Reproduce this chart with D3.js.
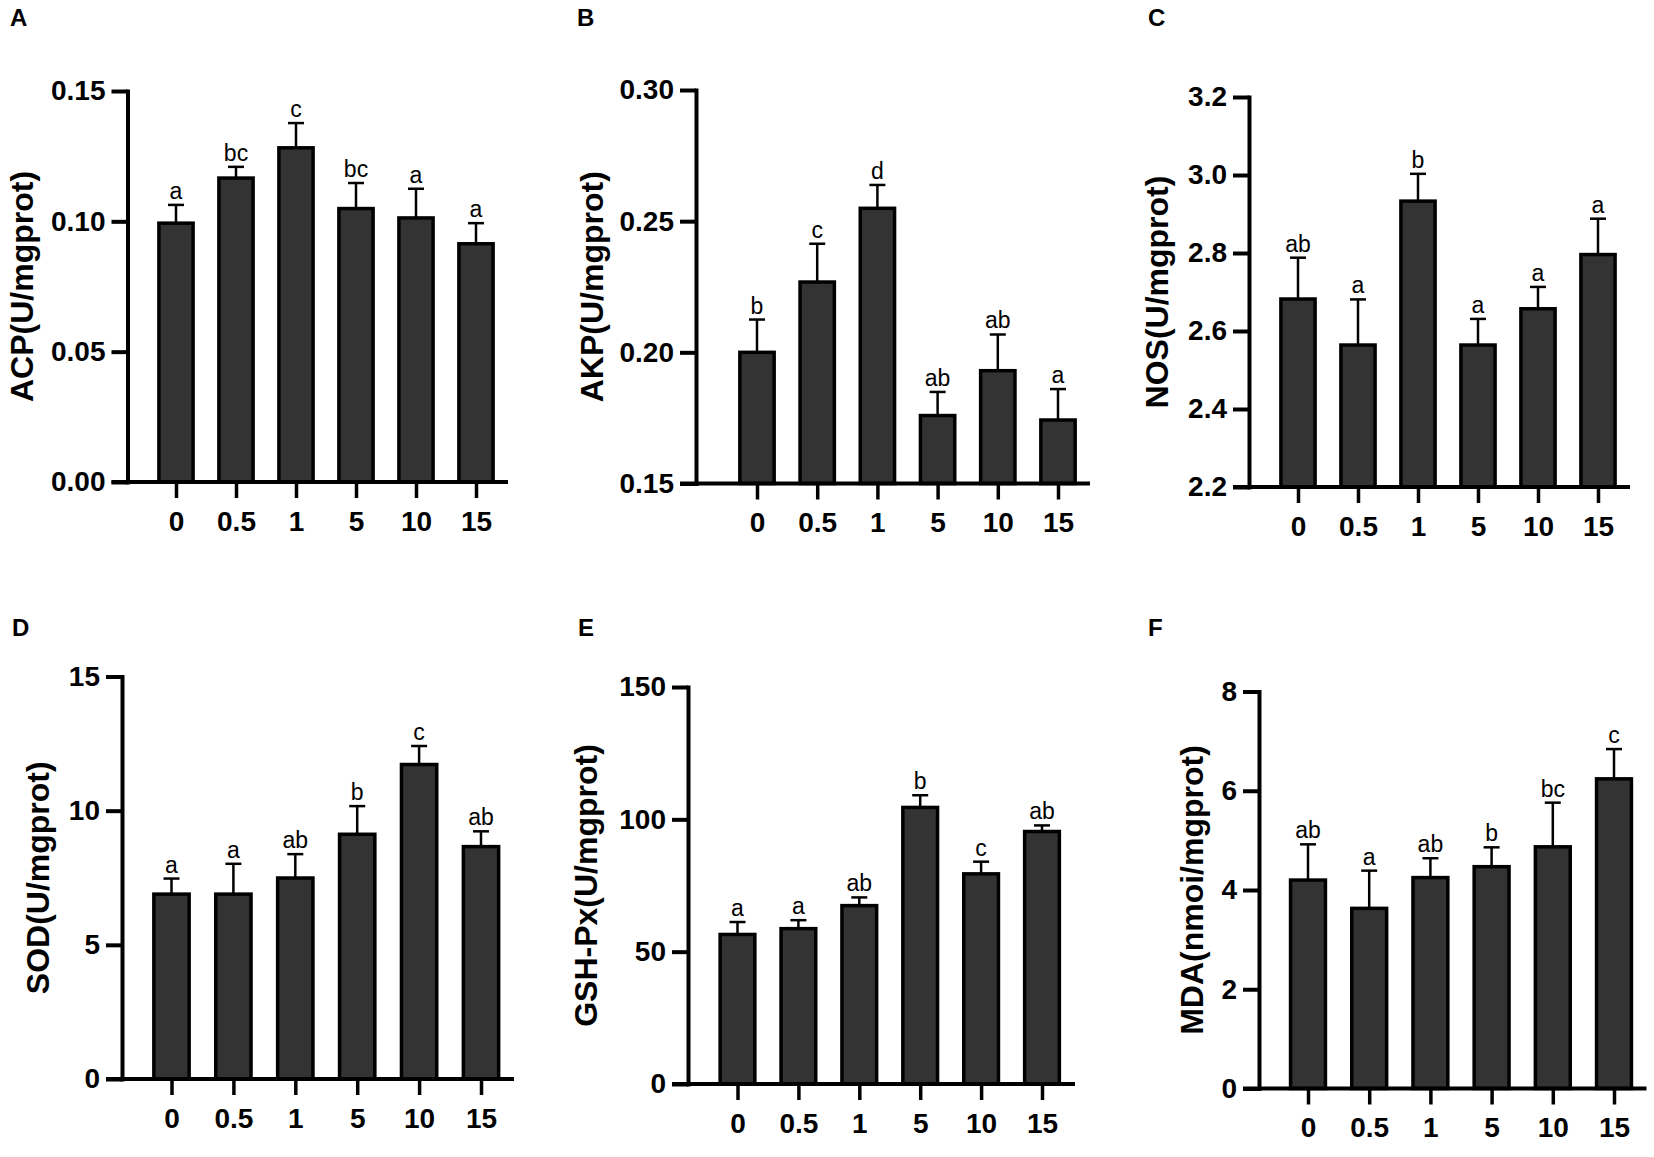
<!DOCTYPE html>
<html>
<head>
<meta charset="utf-8">
<script src="https://cdn.jsdelivr.net/npm/d3@7"></script>
<style>
  body { margin: 0; background: #fff; }
  svg { display: block; font-family: Arial, "Liberation Sans", sans-serif; }
</style>
</head>
<body>
<div id="chart"></div>
<script>
// dose groups on the x axis
const doses = ["0", "0.5", "1", "5", "10", "15"];

// A - ACP
const acpMean = [0.0993, 0.1166, 0.1282, 0.1049, 0.1013, 0.0914];
const acpErr  = [0.0070, 0.0043, 0.0095, 0.0098, 0.0112, 0.0079];
const acpSig  = ["a", "bc", "c", "bc", "a", "a"];
const acpTicks = [0, 0.05, 0.10, 0.15];

// B - AKP
const akpMean = [0.2000, 0.2268, 0.2549, 0.1759, 0.1930, 0.1742];
const akpErr  = [0.0125, 0.0146, 0.0089, 0.0090, 0.0138, 0.0118];
const akpSig  = ["b", "c", "d", "ab", "ab", "a"];
const akpTicks = [0.15, 0.20, 0.25, 0.30];

// C - NOS
const nosMean = [2.682, 2.564, 2.933, 2.564, 2.657, 2.796];
const nosErr  = [0.106, 0.117, 0.070, 0.067, 0.056, 0.092];
const nosSig  = ["ab", "a", "b", "a", "a", "a"];
const nosTicks = [2.2, 2.4, 2.6, 2.8, 3.0, 3.2];

// D - SOD
const sodMean = [6.89, 6.89, 7.49, 9.12, 11.72, 8.66];
const sodErr  = [0.58, 1.13, 0.89, 1.05, 0.69, 0.57];
const sodSig  = ["a", "a", "ab", "b", "c", "ab"];
const sodTicks = [0, 5, 10, 15];

// E - GSH-Px
const gshMean = [56.5, 58.7, 67.4, 104.5, 79.4, 95.4];
const gshErr  = [4.7, 3.2, 3.1, 4.6, 4.6, 2.3];
const gshSig  = ["a", "a", "ab", "b", "c", "ab"];
const gshTicks = [0, 50, 100, 150];

// F - MDA
const mdaMean = [4.20, 3.63, 4.25, 4.47, 4.87, 6.24];
const mdaErr  = [0.72, 0.76, 0.39, 0.39, 0.89, 0.60];
const mdaSig  = ["ab", "a", "ab", "b", "bc", "c"];
const mdaTicks = [0, 2, 4, 6, 8];

const W = 1654, H = 1157;

const svg = d3.select("#chart").append("svg")
    .attr("width", W)
    .attr("height", H)
    .style("background", "#fff");

// panel frames (pixels), data hooked in from the arrays above
const panels = [
  {tag: "A", title: "ACP(U/mgprot)", mean: acpMean, err: acpErr, sig: acpSig, ticks: acpTicks, fmt: d3.format(".2f"),
   x0: 127.5, x1: 508, yTop: 91, yBot: 482, first: 176, last: 476, titleX: 22, tagX: 10, tagY: 26},
  {tag: "B", title: "AKP(U/mgprot)", mean: akpMean, err: akpErr, sig: akpSig, ticks: akpTicks, fmt: d3.format(".2f"),
   x0: 696, x1: 1090, yTop: 90, yBot: 483.5, first: 757, last: 1058, titleX: 592, tagX: 577, tagY: 26},
  {tag: "C", title: "NOS(U/mgprot)", mean: nosMean, err: nosErr, sig: nosSig, ticks: nosTicks, fmt: d3.format(".1f"),
   x0: 1249, x1: 1630, yTop: 97, yBot: 487, first: 1298, last: 1598, titleX: 1157, tagX: 1148, tagY: 26},
  {tag: "D", title: "SOD(U/mgprot)", mean: sodMean, err: sodErr, sig: sodSig, ticks: sodTicks, fmt: d3.format("d"),
   x0: 122, x1: 514, yTop: 676.5, yBot: 1079, first: 171.5, last: 481, titleX: 38, tagX: 12, tagY: 636},
  {tag: "E", title: "GSH-Px(U/mgprot)", mean: gshMean, err: gshErr, sig: gshSig, ticks: gshTicks, fmt: d3.format("d"),
   x0: 688, x1: 1075, yTop: 687, yBot: 1084, first: 737.5, last: 1042, titleX: 586, tagX: 578, tagY: 636},
  {tag: "F", title: "MDA(nmoi/mgprot)", mean: mdaMean, err: mdaErr, sig: mdaSig, ticks: mdaTicks, fmt: d3.format("d"),
   x0: 1259, x1: 1646.5, yTop: 691.5, yBot: 1088.5, first: 1308, last: 1614, titleX: 1192, tagX: 1148, tagY: 636}
];

function drawPanel(p) {
  const g = svg.append("g");
  const lo = p.ticks[0], hi = p.ticks[p.ticks.length - 1];

  const y = d3.scaleLinear().domain([lo, hi]).range([p.yBot, p.yTop]);
  const x = d3.scalePoint().domain(doses).range([p.first, p.last]);
  const step = (p.last - p.first) / (doses.length - 1);
  const barW = step * 0.57;

  // bars
  g.selectAll(".bar")
    .data(p.mean)
    .enter().append("rect")
    .attr("class", "bar")
    .attr("x", (d, i) => x(doses[i]) - barW / 2)
    .attr("y", d => y(d))
    .attr("width", barW)
    .attr("height", d => y(lo) - y(d))
    .attr("fill", "#333333")
    .attr("stroke", "#000")
    .attr("stroke-width", 3.5);

  // error bars (upper only, with cap)
  g.selectAll(".err")
    .data(p.mean)
    .enter().append("line")
    .attr("x1", (d, i) => x(doses[i]))
    .attr("x2", (d, i) => x(doses[i]))
    .attr("y1", d => y(d))
    .attr("y2", (d, i) => y(d + p.err[i]))
    .attr("stroke", "#000")
    .attr("stroke-width", 2.5);

  g.selectAll(".cap")
    .data(p.mean)
    .enter().append("line")
    .attr("x1", (d, i) => x(doses[i]) - 8)
    .attr("x2", (d, i) => x(doses[i]) + 8)
    .attr("y1", (d, i) => y(d + p.err[i]))
    .attr("y2", (d, i) => y(d + p.err[i]))
    .attr("stroke", "#000")
    .attr("stroke-width", 2.5);

  // significance letters
  g.selectAll(".sig")
    .data(p.sig)
    .enter().append("text")
    .attr("x", (d, i) => x(doses[i]))
    .attr("y", (d, i) => y(p.mean[i] + p.err[i]) - 6)
    .attr("text-anchor", "middle")
    .attr("font-size", "23px")
    .attr("fill", "#000")
    .text(d => d);

  // y axis
  const yAxis = g.append("g")
    .attr("transform", `translate(${p.x0},0)`)
    .call(d3.axisLeft(y).tickValues(p.ticks).tickFormat(p.fmt).tickSize(16).tickSizeOuter(0).tickPadding(6));
  yAxis.select(".domain").attr("stroke-width", 4).attr("stroke-linecap", "square");
  yAxis.selectAll(".tick line").attr("stroke-width", 4);
  yAxis.selectAll(".tick text")
    .attr("font-size", "28px")
    .attr("font-weight", "bold")
    .attr("fill", "#000");

  // x axis: ticks from the point scale, base line drawn across the frame
  const xAxis = g.append("g")
    .attr("transform", `translate(0,${p.yBot})`)
    .call(d3.axisBottom(x).tickSize(16).tickSizeOuter(0).tickPadding(13));
  xAxis.select(".domain").remove();
  xAxis.selectAll(".tick line").attr("stroke-width", 3.5);
  xAxis.selectAll(".tick text")
    .attr("font-size", "28px")
    .attr("font-weight", "bold")
    .attr("fill", "#000");

  g.append("line")
    .attr("x1", p.x0 - 16)
    .attr("x2", p.x1)
    .attr("y1", p.yBot)
    .attr("y2", p.yBot)
    .attr("stroke", "#000")
    .attr("stroke-width", 4);

  // y title
  g.append("text")
    .attr("transform", `translate(${p.titleX},${(p.yTop + p.yBot) / 2}) rotate(-90)`)
    .attr("dy", "0.35em")
    .attr("text-anchor", "middle")
    .attr("font-size", "32px")
    .attr("font-weight", "bold")
    .attr("fill", "#000")
    .text(p.title);

  // panel tag
  g.append("text")
    .attr("x", p.tagX)
    .attr("y", p.tagY)
    .attr("font-size", "24px")
    .attr("font-weight", "bold")
    .attr("fill", "#000")
    .text(p.tag);
}

panels.forEach(drawPanel);
</script>
</body>
</html>
